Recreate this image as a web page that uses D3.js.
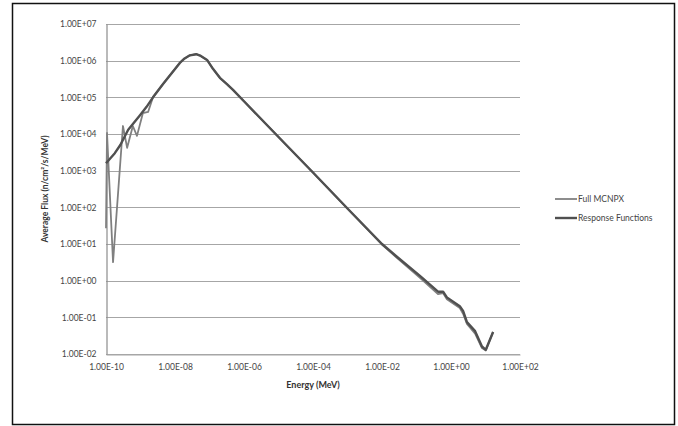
<!DOCTYPE html>
<html>
<head>
<meta charset="utf-8">
<script src="https://cdn.jsdelivr.net/npm/d3@7"></script>
<style>
  body { margin: 0; background: #fff; }
  text { font-family: Lato, "Open Sans", sans-serif; }
</style>
</head>
<body>
<svg id="chart" width="678" height="426"></svg>
<script>
// Energy bins (MeV) and average flux for each run
const energyFull = [1.0e-10, 1.07e-10, 1.6e-10, 3.1e-10, 4.1e-10, 6.0e-10, 7.9e-10, 1.17e-9, 1.66e-9, 2.3e-9,
  4.5e-9, 1.38e-8, 1.9e-8, 2.7e-8, 4.1e-8, 5.6e-8, 8.5e-8, 1.26e-7, 2.0e-7, 3.2e-7, 4.8e-7,
  1e-6, 1e-5, 1e-4, 1e-3, 1e-2, 2.7e-2, 0.126, 0.42, 0.59, 0.76, 1.8, 2.24, 2.9, 5.0, 7.9, 10.2, 16.6];
const fluxFull = [27, 1.07e4, 3.2, 1.65e4, 4.2e3, 1.65e4, 8.9e3, 3.7e4, 4.0e4, 1.0e5,
  2.3e5, 8.7e5, 1.15e6, 1.4e6, 1.5e6, 1.35e6, 1.05e6, 6.0e5, 3.4e5, 2.3e5, 1.6e5,
  7.8e4, 8.3e3, 890, 92, 9.6, 4.2, 1.2, 0.43, 0.46, 0.31, 0.18, 0.125, 0.066, 0.036, 0.0145, 0.0125, 0.04];

const energyResp = [1.0e-10, 1.8e-10, 2.6e-10, 4.4e-10, 9.8e-10, 1.5e-9, 2.3e-9,
  4.5e-9, 1.38e-8, 1.9e-8, 2.7e-8, 4.1e-8, 5.6e-8, 8.5e-8, 1.26e-7, 2.0e-7, 3.2e-7, 4.8e-7,
  1e-6, 1e-5, 1e-4, 1e-3, 1e-2, 2.7e-2, 0.126, 0.42, 0.59, 0.76, 1.8, 2.24, 2.9, 5.0, 7.9, 10.2, 16.6];
const fluxResp = [1.6e3, 3.0e3, 5.0e3, 1.3e4, 3.3e4, 5.5e4, 1.0e5,
  2.3e5, 8.7e5, 1.15e6, 1.4e6, 1.5e6, 1.35e6, 1.05e6, 6.0e5, 3.4e5, 2.3e5, 1.6e5,
  7.8e4, 8.3e3, 890, 93, 10, 4.5, 1.35, 0.5, 0.5, 0.35, 0.2, 0.15, 0.074, 0.042, 0.016, 0.013, 0.04];

const seriesNames = ["Full MCNPX", "Response Functions"];
const xTicks = [1e-10, 1e-8, 1e-6, 1e-4, 1e-2, 1e0, 1e2];
const yTicks = [1e-2, 1e-1, 1e0, 1e1, 1e2, 1e3, 1e4, 1e5, 1e6, 1e7];

// Excel style exponent labels, e.g. 1.00E+07
function sci(v) {
  const e = Math.round(Math.log10(v));
  return "1.00E" + (e < 0 ? "-" : "+") + String(Math.abs(e)).padStart(2, "0");
}

const svg = d3.select("#chart");

// outer frame
svg.append("rect")
  .attr("x", 12.5).attr("y", 3.5)
  .attr("width", 662).attr("height", 421)
  .attr("fill", "none").attr("stroke", "#111").attr("stroke-width", 1.5);

const x = d3.scaleLog().domain([1e-10, 1e2]).range([106, 520]);
const y = d3.scaleLog().domain([1e-2, 1e7]).range([354, 24]);

// horizontal gridlines
svg.append("g")
  .selectAll("line")
  .data(yTicks)
  .enter()
  .append("line")
  .attr("x1", x.range()[0]).attr("x2", x.range()[1])
  .attr("y1", d => Math.round(y(d)) + 0.5).attr("y2", d => Math.round(y(d)) + 0.5)
  .attr("stroke", "#a6a6a6").attr("stroke-width", 1.2);

// axes (no tick marks, just labels)
const xAxis = svg.append("g")
  .attr("transform", "translate(0," + (Math.round(y(1e-2)) + 0.5) + ")")
  .call(d3.axisBottom(x).tickValues(xTicks).tickFormat(sci).tickSize(0).tickPadding(9));
const yAxis = svg.append("g")
  .attr("transform", "translate(" + (x.range()[0] + 0.5) + ",0)")
  .call(d3.axisLeft(y).tickValues(yTicks).tickFormat(sci).tickSize(0).tickPadding(10));

[xAxis, yAxis].forEach(g => {
  g.select(".domain").attr("stroke", "#8c8c8c").attr("stroke-width", 1.2);
  g.selectAll("text").attr("fill", "#444").style("font-size", "8.5px").style("font-family", "Lato, sans-serif");
});
xAxis.select(".domain").attr("stroke", "#a6a6a6");

// axis titles
svg.append("text")
  .attr("x", 313).attr("y", 388)
  .attr("text-anchor", "middle")
  .style("font-size", "9px").style("font-weight", "bold").attr("fill", "#333")
  .text("Energy (MeV)");

svg.append("text")
  .attr("transform", "translate(48,189) rotate(-90)")
  .attr("text-anchor", "middle")
  .style("font-size", "8.5px").style("font-weight", "bold").attr("fill", "#333")
  .text("Average Flux (n/cm²/s/MeV)");

// the two curves
const line = d3.line()
  .x(d => x(d[0]))
  .y(d => y(d[1]));

const series = [
  { name: seriesNames[0], pts: d3.zip(energyFull, fluxFull), color: "#808080", width: 1.8 },
  { name: seriesNames[1], pts: d3.zip(energyResp, fluxResp), color: "#505050", width: 2.4 }
];

svg.append("g")
  .selectAll("path")
  .data(series)
  .enter()
  .append("path")
  .attr("d", d => line(d.pts))
  .attr("fill", "none")
  .attr("stroke", d => d.color)
  .attr("stroke-width", d => d.width)
  .attr("stroke-linejoin", "round");

// legend
const legend = svg.append("g")
  .selectAll("g")
  .data(series)
  .enter()
  .append("g")
  .attr("transform", (d, i) => "translate(555," + (199 + i * 19) + ")");

legend.append("line")
  .attr("x1", 0).attr("x2", 22)
  .attr("stroke", d => d.color)
  .attr("stroke-width", d => d.width);

legend.append("text")
  .attr("x", 23).attr("y", 3)
  .style("font-size", "8.5px").attr("fill", "#444")
  .text(d => d.name);
</script>
</body>
</html>
